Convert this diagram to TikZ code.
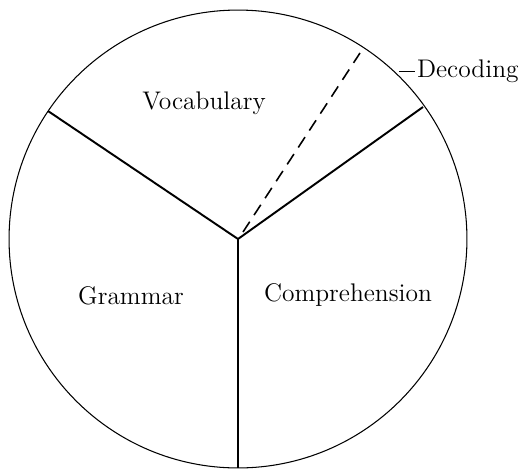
\documentclass[tikz,border=0pt]{standalone}
\usepackage{tikz}
\usetikzlibrary{calc, positioning}
\tikzset{
  rim/.style={line width=0.6pt},
  spoke/.style={line width=1.1pt},
  part/.style={font=\fontsize{14.5}{17}\selectfont},
}

\begin{document}
\begin{tikzpicture}[x=0.02cm, y=-0.02cm]
  \useasboundingbox (0,0) rectangle (522,468);
  % Reading skills pie
  \coordinate (c) at (238,239);
  \draw[rim] (c) circle (4.58cm);

  \coordinate (tl) at (48,111);
  \coordinate (tr) at (423,107);
  \coordinate (bt) at (238,468);
  \draw[spoke] (c) -- (tl);
  \draw[spoke] (c) -- (tr);
  \draw[spoke] (c) -- (bt);

  % Decoding slice
  \coordinate (d0) at (243,232);
  \coordinate (d1) at (360,53);
  \draw[line width=0.9pt, dash pattern=on 7pt off 4.5pt] (d0) -- (d1);

  \node[part] (voc) at (204,103) {Vocabulary};
  \node[part] (gram) at (131,296) {Grammar};
  \node[part] (comp) at (348,295) {Comprehension};
  \node[part, anchor=west, inner sep=1pt] (dec) at (415,71) {Decoding};
  \coordinate (lead) at (399,71);
  \draw[line width=0.5pt] (lead) -- (dec.west);
\end{tikzpicture}
\end{document}
